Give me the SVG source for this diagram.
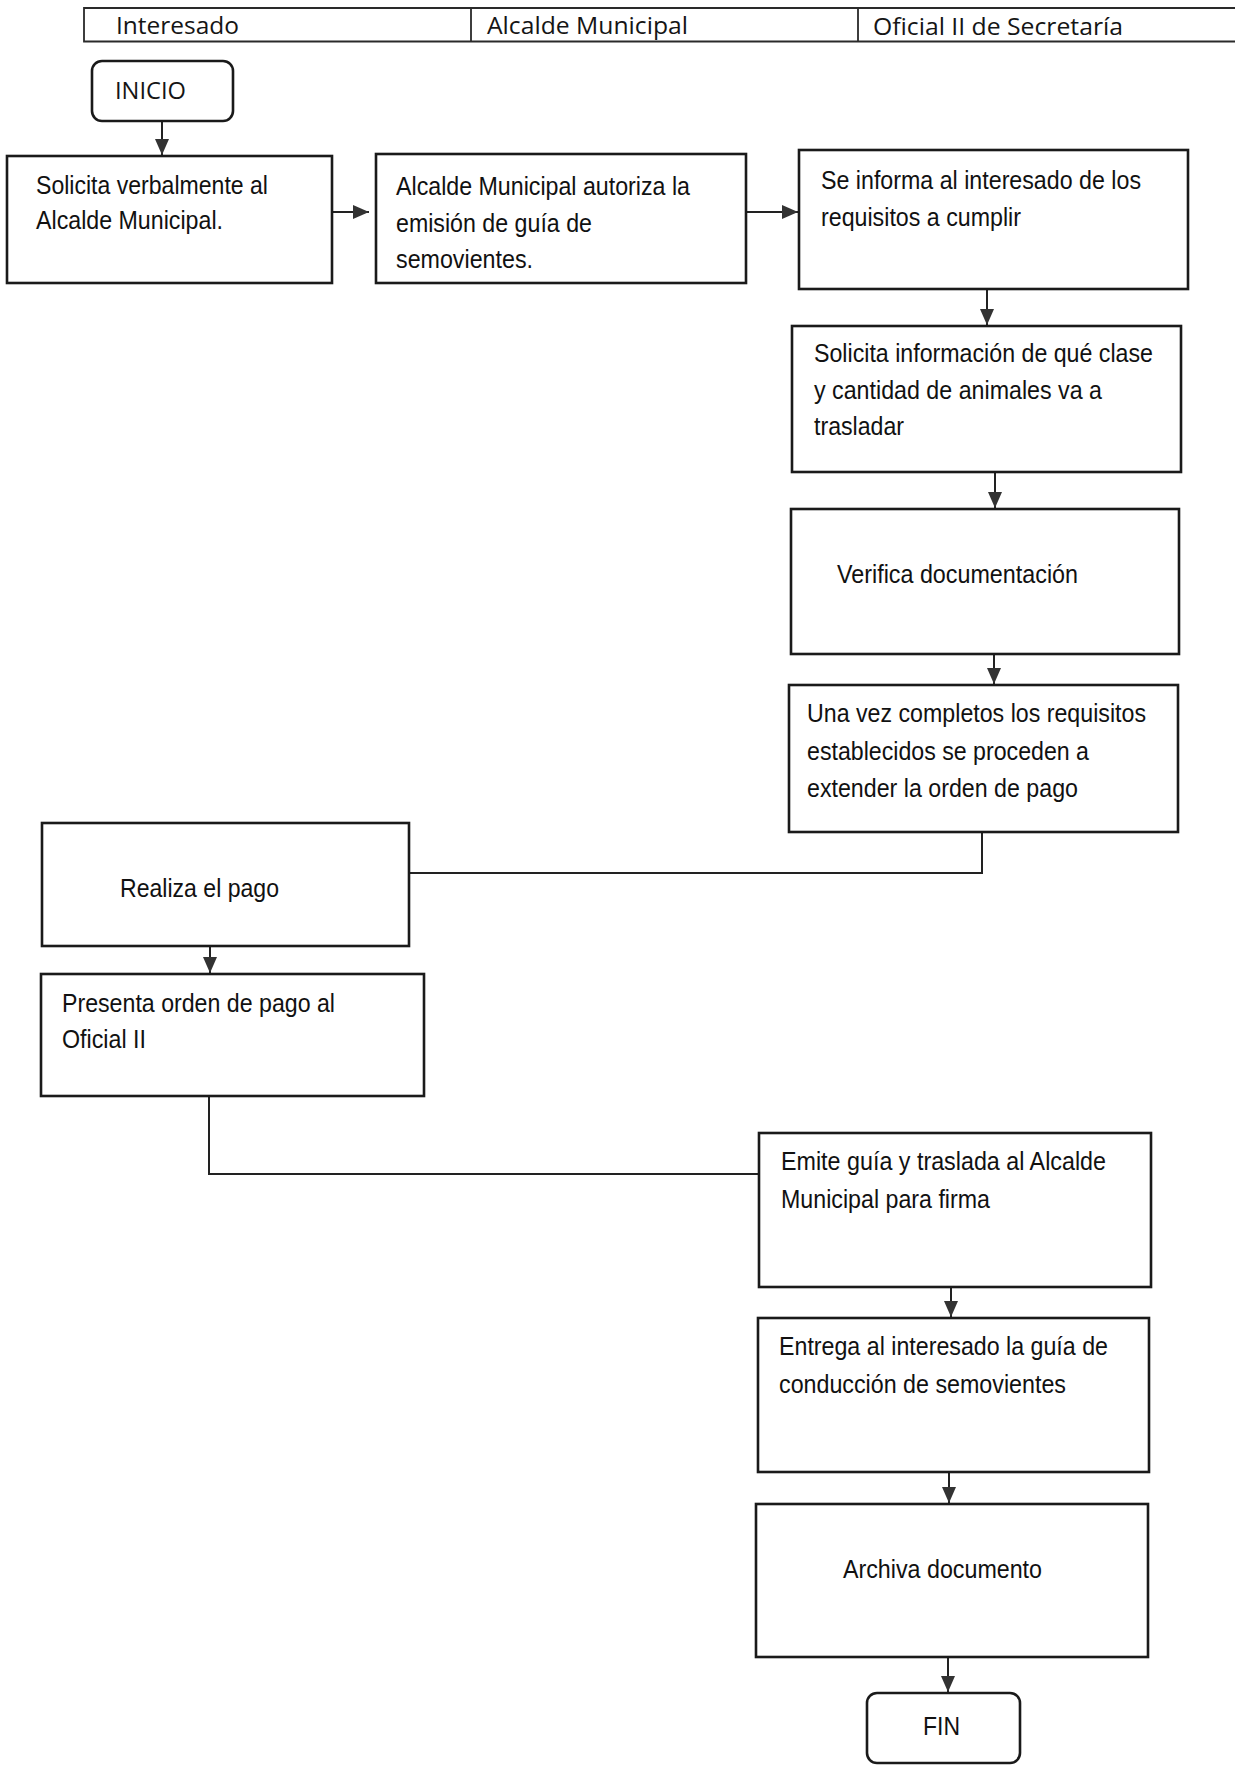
<svg xmlns="http://www.w3.org/2000/svg" width="1235" height="1765" viewBox="0 0 1235 1765">
<style>
  .bg{fill:#ffffff}
  .box{fill:#ffffff;stroke:#1a1a1a;stroke-width:2.6}
  .hdr{fill:none;stroke:#2a2a2a;stroke-width:1.8}
  .hd{font-family:"Open Sans","Noto Sans","Liberation Sans",sans-serif;font-size:24px;fill:#151515}
  .t{font-family:"Liberation Sans",Arial,sans-serif;font-size:26px;fill:#111111}
  .c{fill:none;stroke:#222222;stroke-width:2}
</style>
<defs>
  <marker id="ah" markerUnits="userSpaceOnUse" markerWidth="18" markerHeight="16" refX="16" refY="7" orient="auto">
    <path d="M0,0 L16,7 L0,14 Z" fill="#333333"/>
  </marker>
</defs>
<rect class="bg" x="0" y="0" width="1235" height="1765"/>

<g id="header">
  <path class="hdr" d="M1235,8 H84 V41.5 H1235 M471,8 V41.5 M858,8 V41.5"/>
  <text class="hd" x="116" y="34" textLength="123" lengthAdjust="spacingAndGlyphs">Interesado</text>
  <text class="hd" x="487" y="34" textLength="201" lengthAdjust="spacingAndGlyphs">Alcalde Municipal</text>
  <text class="hd" x="873" y="35" textLength="250" lengthAdjust="spacingAndGlyphs">Oficial II de Secretaría</text>
</g>

<g id="connectors">
  <line class="c" x1="162" y1="121" x2="162" y2="155" marker-end="url(#ah)"/>
  <line class="c" x1="332" y1="212" x2="369" y2="212" marker-end="url(#ah)"/>
  <line class="c" x1="746" y1="212" x2="798" y2="212" marker-end="url(#ah)"/>
  <line class="c" x1="987" y1="289" x2="987" y2="325" marker-end="url(#ah)"/>
  <line class="c" x1="995" y1="472" x2="995" y2="508" marker-end="url(#ah)"/>
  <line class="c" x1="994" y1="654" x2="994" y2="684" marker-end="url(#ah)"/>
  <polyline class="c" points="982,832 982,873 409,873"/>
  <line class="c" x1="210" y1="946" x2="210" y2="973" marker-end="url(#ah)"/>
  <polyline class="c" points="209,1096 209,1174 759,1174"/>
  <line class="c" x1="951" y1="1287" x2="951" y2="1317" marker-end="url(#ah)"/>
  <line class="c" x1="949" y1="1472" x2="949" y2="1503" marker-end="url(#ah)"/>
  <line class="c" x1="948" y1="1657" x2="948" y2="1692" marker-end="url(#ah)"/>
</g>

<g id="inicio">
  <rect class="box" x="92" y="61" width="141" height="60" rx="10"/>
  <text class="hd" x="115" y="99" textLength="71" lengthAdjust="spacingAndGlyphs">INICIO</text>
</g>

<g id="n1">
  <rect class="box" x="7" y="156" width="325" height="127"/>
  <text class="t" x="36" y="194" textLength="232" lengthAdjust="spacingAndGlyphs">Solicita verbalmente al</text>
  <text class="t" x="36" y="229" textLength="187" lengthAdjust="spacingAndGlyphs">Alcalde Municipal.</text>
</g>

<g id="n2">
  <rect class="box" x="376" y="154" width="370" height="129"/>
  <text class="t" x="396" y="195" textLength="294" lengthAdjust="spacingAndGlyphs">Alcalde Municipal autoriza la</text>
  <text class="t" x="396" y="232" textLength="196" lengthAdjust="spacingAndGlyphs">emisión de guía de</text>
  <text class="t" x="396" y="268" textLength="137" lengthAdjust="spacingAndGlyphs">semovientes.</text>
</g>

<g id="n3">
  <rect class="box" x="799" y="150" width="389" height="139"/>
  <text class="t" x="821" y="189" textLength="320" lengthAdjust="spacingAndGlyphs">Se informa al interesado de los</text>
  <text class="t" x="821" y="226" textLength="200" lengthAdjust="spacingAndGlyphs">requisitos a cumplir</text>
</g>

<g id="n4">
  <rect class="box" x="792" y="326" width="389" height="146"/>
  <text class="t" x="814" y="362" textLength="339" lengthAdjust="spacingAndGlyphs">Solicita información de qué clase</text>
  <text class="t" x="814" y="399" textLength="288" lengthAdjust="spacingAndGlyphs">y cantidad de animales va a</text>
  <text class="t" x="814" y="435" textLength="90" lengthAdjust="spacingAndGlyphs">trasladar</text>
</g>

<g id="n5">
  <rect class="box" x="791" y="509" width="388" height="145"/>
  <text class="t" x="837" y="583" textLength="241" lengthAdjust="spacingAndGlyphs">Verifica documentación</text>
</g>

<g id="n6">
  <rect class="box" x="789" y="685" width="389" height="147"/>
  <text class="t" x="807" y="722" textLength="339" lengthAdjust="spacingAndGlyphs">Una vez completos los requisitos</text>
  <text class="t" x="807" y="760" textLength="282" lengthAdjust="spacingAndGlyphs">establecidos se proceden a</text>
  <text class="t" x="807" y="797" textLength="271" lengthAdjust="spacingAndGlyphs">extender la orden de pago</text>
</g>

<g id="n7">
  <rect class="box" x="42" y="823" width="367" height="123"/>
  <text class="t" x="120" y="897" textLength="159" lengthAdjust="spacingAndGlyphs">Realiza el pago</text>
</g>

<g id="n8">
  <rect class="box" x="41" y="974" width="383" height="122"/>
  <text class="t" x="62" y="1012" textLength="273" lengthAdjust="spacingAndGlyphs">Presenta orden de pago al</text>
  <text class="t" x="62" y="1048" textLength="84" lengthAdjust="spacingAndGlyphs">Oficial II</text>
</g>

<g id="n9">
  <rect class="box" x="759" y="1133" width="392" height="154"/>
  <text class="t" x="781" y="1170" textLength="325" lengthAdjust="spacingAndGlyphs">Emite guía y traslada al Alcalde</text>
  <text class="t" x="781" y="1208" textLength="209" lengthAdjust="spacingAndGlyphs">Municipal para firma</text>
</g>

<g id="n10">
  <rect class="box" x="758" y="1318" width="391" height="154"/>
  <text class="t" x="779" y="1355" textLength="329" lengthAdjust="spacingAndGlyphs">Entrega al interesado la guía de</text>
  <text class="t" x="779" y="1393" textLength="287" lengthAdjust="spacingAndGlyphs">conducción de semovientes</text>
</g>

<g id="n11">
  <rect class="box" x="756" y="1504" width="392" height="153"/>
  <text class="t" x="843" y="1578" textLength="199" lengthAdjust="spacingAndGlyphs">Archiva documento</text>
</g>

<g id="fin">
  <rect class="box" x="867" y="1693" width="153" height="70" rx="10"/>
  <text class="t" x="923" y="1735" textLength="37" lengthAdjust="spacingAndGlyphs">FIN</text>
</g>
</svg>
